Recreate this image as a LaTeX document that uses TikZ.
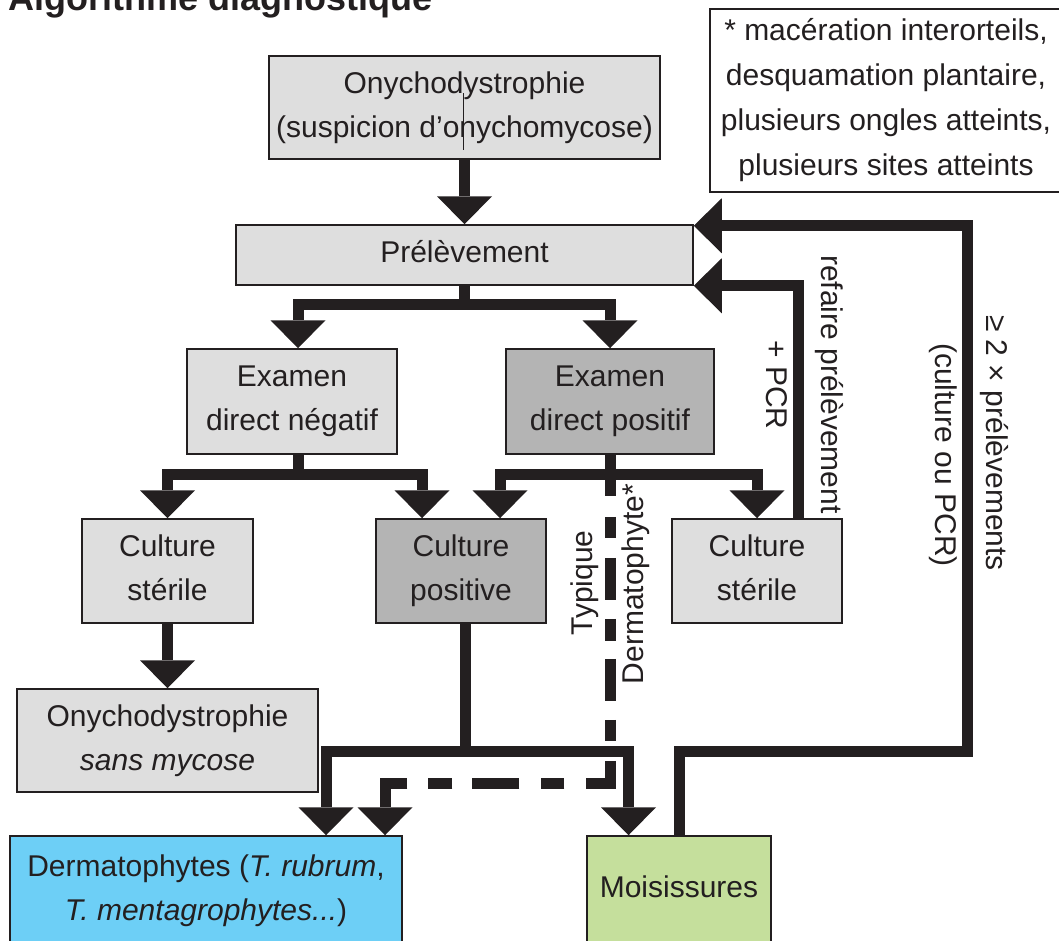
\documentclass[tikz,border=0pt]{standalone}
\usepackage{fontspec}
\setmainfont{Liberation Sans}
\usetikzlibrary{arrows.meta}
\definecolor{lgray}{HTML}{DEDEDE}
\definecolor{dgray}{HTML}{B4B4B4}
\definecolor{dblue}{HTML}{6DCFF6}
\definecolor{lgreen}{HTML}{C5DF9C}
\definecolor{ink}{HTML}{231F20}
\begin{document}
\begin{tikzpicture}[x=1pt,y=-1pt,
  every node/.style={text=ink, font=\fontsize{30}{44}\selectfont},
  box/.style={draw=ink, line width=1.5pt, inner sep=0pt, align=center},
  lbox/.style={box, fill=lgray},
  dbox/.style={box, fill=dgray},
  arr/.style={draw=ink, line width=11pt, -{Triangle[width=55pt,length=28pt,line width=0pt]}},
  vlab/.style={inner sep=0pt, anchor=base},
]
\useasboundingbox (0,0) rectangle (1059,940);
\clip (0,0) rectangle (1059,940);

% title (cut at top, as in the reference)
\node[anchor=base west, inner sep=0pt, font=\bfseries\fontsize{36}{40}\selectfont] (title) at (8,10.5) {Algorithme diagnostique};

% footnote box
\node[draw=ink, line width=1.2pt, fill=white, inner sep=0pt, align=center,
      minimum width=352pt, minimum height=183pt, font=\fontsize{30}{45}\selectfont] (note) at (886,100.5)
  {* macération interorteils,\\desquamation plantaire,\\plusieurs ongles atteints,\\plusieurs sites atteints};

% boxes
\node[lbox, minimum width=391pt, minimum height=103pt] (top) at (464.5,107.5) {Onychodystrophie\\(suspicion d’onychomycose)};
\draw[ink, line width=0.9pt] (463,93) -- (463,150);
\node[lbox, minimum width=457pt, minimum height=60pt, text height=22pt, text depth=8pt] (prel) at (464.5,255) {Prélèvement};
\node[lbox, minimum width=210pt, minimum height=105pt] (neg) at (292,401.5) {Examen\\direct négatif};
\node[dbox, minimum width=208pt, minimum height=105pt] (pos) at (610,401.5) {Examen\\direct positif};
\node[lbox, minimum width=171pt, minimum height=104pt] (cs1) at (167.5,571) {Culture\\stérile\vphantom{p}};
\node[dbox, minimum width=170pt, minimum height=104pt] (cp) at (461,571) {Culture\\positive};
\node[lbox, minimum width=170pt, minimum height=104pt] (cs2) at (757,571) {Culture\\stérile\vphantom{p}};
\node[lbox, minimum width=301pt, minimum height=103pt] (osm) at (167.5,740.5) {Onychodystrophie\\\textit{sans mycose}};
\node[box, fill=dblue, minimum width=392pt, minimum height=110pt] (derm) at (206,891) {Dermatophytes (\textit{T. rubrum},\\\textit{T. mentagrophytes...})};
\node[box, fill=lgreen, minimum width=184pt, minimum height=110pt, text height=21.5pt, text depth=9.5pt] (mois) at (679,891) {Moisissures};

% rotated labels
\node[vlab, rotate=-90] (lref) at (821,384.5) {refaire prélèvement};
\node[vlab, rotate=-90] (lpcr) at (766,385) {+ PCR};
\node[vlab, rotate=-90] (l2x) at (986,443) {≥ 2 × prélèvements};
\node[vlab, rotate=-90] (lcul) at (935,455) {(culture ou PCR)};
\node[vlab, rotate=90] (ltyp) at (592,583) {Typique};
\node[vlab, rotate=90] (lder) at (643,584) {Dermatophyte*};

% connectors
\draw[arr] (top) -- (prel);
\draw[arr] (prel.south) -- ++(0,19) -| ([xshift=6pt]neg.north);
\draw[arr] (prel.south) -- ++(0,19) -| (pos.north);
\draw[arr] ([xshift=6.5pt]neg.south) -- ++(0,19.5) -| (cs1.north);
\draw[arr] ([xshift=6.5pt]neg.south) -- ++(0,19.5) -| ([xshift=-39pt]cp.north);
\draw[arr] (pos.south) -- ++(0,19.5) -| ([xshift=39pt]cp.north);
\draw[arr] (pos.south) -- ++(0,19.5) -| (cs2.north);
\draw[arr] (cs1) -- (osm);
\draw[arr] ([xshift=4pt]cp.south) -- ++(0,128) -| ([xshift=120pt]derm.north);
\draw[arr] ([xshift=4pt]cp.south) -- ++(0,128) -| ([xshift=-50.5pt]mois.north);
\draw[arr] ([xshift=41pt]cs2.north) |- (prel.south east);
\coordinate (r1) at (967,751);
\draw[arr] (mois.north) |- (r1) |- ([yshift=-1.5pt]prel.north east);
\coordinate (dc) at (610,783.5);
\draw[arr, dash pattern=on 41pt off 21pt on 21pt off 20pt on 42pt off 19pt on 22pt off 18pt on 42pt off 19pt on 21pt off 20pt on 46.5pt off 22pt on 23pt off 22pt on 47pt off 20pt on 24pt off 21pt on 300pt]
  (pos.south) -- (dc) -| ([xshift=179pt]derm.north);
\end{tikzpicture}
\end{document}
